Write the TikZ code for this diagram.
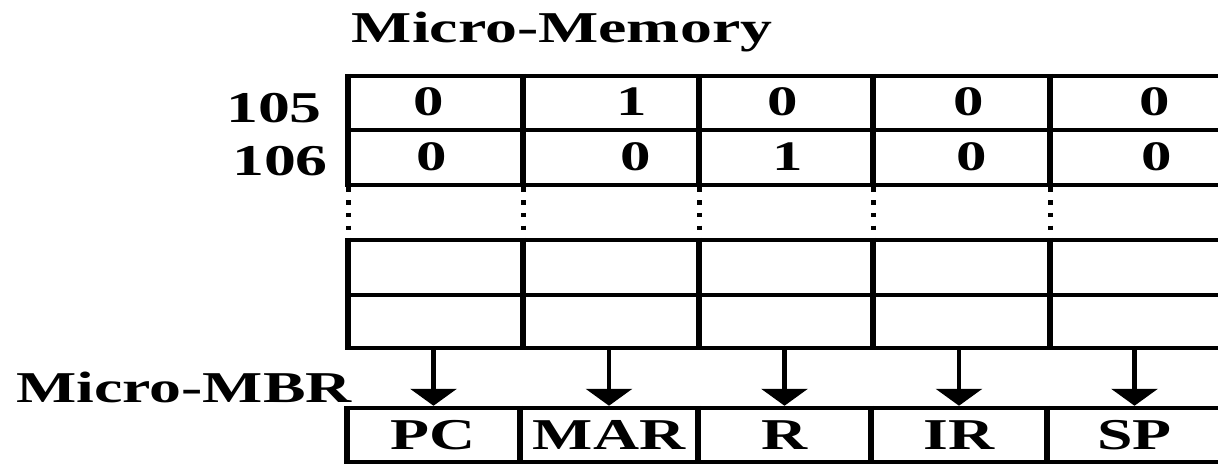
\documentclass[tikz,border=0pt]{standalone}
\usepackage{fontspec}
\setmainfont{Liberation Serif}[FakeStretch=1.45]
\usetikzlibrary{arrows.meta}
\begin{document}
\begin{tikzpicture}[x=1pt,y=-1pt,
  hline/.style={line width=4.5pt},
  vline/.style={line width=5.5pt},
  gapdots/.style={line width=5pt, dash pattern=on 4.5pt off 8.25pt},
  lbl/.style={inner sep=0pt, font=\fontsize{44}{50}\selectfont\bfseries},
  bit/.style={inner sep=0pt, anchor=base, font=\fontsize{42}{48}\selectfont\bfseries},
  reg/.style={rectangle, inner sep=0pt, outer sep=0pt, minimum height=54pt,
    font=\fontsize{44}{50}\selectfont\bfseries},
  feed/.style={line width=4.5pt, -{Triangle[width=46pt,length=17pt]}},
]
\useasboundingbox (0,0) rectangle (1218,464);
\clip (0,0) rectangle (1218,464);

% captions
\node[lbl, anchor=base] (title) at (562,42) {Micro-Memory};
\node[lbl, anchor=base east] (a105) at (322,122) {105};
\node[lbl, anchor=base east] (a106) at (328,175) {106};
\node[lbl, anchor=base] (mbrlabel) at (184,402) {Micro-MBR};

% micro-memory grid: two shown words, a gap, two more words
\foreach \y in {76,130,185,240,295,348}
  \draw[hline] (345.25,\y) -- (1232,\y);
\foreach \x in {348,523,699,873,1050,1226} {
  \draw[vline] (\x,73.75) -- (\x,187.25);
  \draw[vline] (\x,237.75) -- (\x,350.25);
  \draw[gapdots] (\x,187.25) -- (\x,240);
}
\coordinate (mem-bottom) at (348,350);

% word 105
\node[bit] (b105a) at (429,115) {0};
\node[bit] (b105b) at (632,115) {1};
\node[bit] (b105c) at (783,115) {0};
\node[bit] (b105d) at (969,115) {0};
\node[bit] (b105e) at (1155,115) {0};
% word 106
\node[bit] (b106a) at (432,170) {0};
\node[bit] (b106b) at (636,170) {0};
\node[bit] (b106c) at (788,170) {1};
\node[bit] (b106d) at (972,170) {0};
\node[bit] (b106e) at (1157,170) {0};

% micro-MBR register fields
\node[reg, minimum width=173pt] (pc)  at (433.5,435) {PC};
\node[reg, minimum width=178pt] (mar) at (609,435)   {MAR};
\node[reg, minimum width=173pt] (r)   at (784.5,435) {R};
\node[reg, minimum width=176pt] (ir)  at (959,435)   {IR};
\node[reg, minimum width=175pt] (sp)  at (1134.5,435) {SP};

\draw[hline] ([xshift=-2.75pt]pc.north west) -- ([xshift=3pt]sp.north east);
\draw[hline] ([xshift=-2.75pt]pc.south west) -- ([xshift=3pt]sp.south east);
\foreach \f in {pc,mar,r,ir,sp}
  \draw[vline] ([yshift=2.25pt]\f.north west) -- ([yshift=-2.25pt]\f.south west);
\draw[vline] ([yshift=2.25pt]sp.north east) -- ([yshift=-2.25pt]sp.south east);

% bit lines from the memory word into each field
\foreach \f in {pc,mar,r,ir,sp}
  \draw[feed] (mem-bottom -| \f.north) -- ([yshift=2.25pt]\f.north);
\end{tikzpicture}
\end{document}
